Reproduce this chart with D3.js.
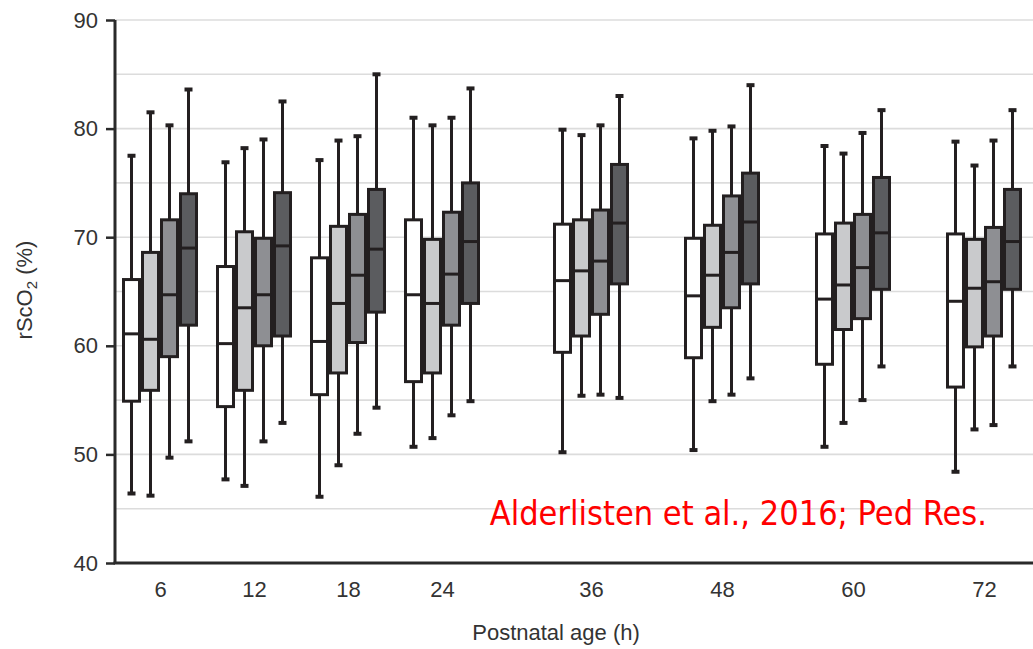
<!DOCTYPE html>
<html>
<head>
<meta charset="utf-8">
<script src="https://cdn.jsdelivr.net/npm/d3@7"></script>
<style>
  html, body { margin: 0; padding: 0; background: #fff; }
  svg { display: block; }
</style>
</head>
<body>
<svg id="chart" width="1033" height="649"></svg>
<script>
// Postnatal age groups (hours) and the four series drawn per group
const ages = [6, 12, 18, 24, 36, 48, 60, 72];
const seriesNames = ["s1", "s2", "s3", "s4"];
const seriesFill = ["#ffffff", "#c9cacc", "#8e8f93", "#5b5c5f"];
const yTicks = [40, 50, 60, 70, 80, 90];
const yGrid = [45, 50, 55, 60, 65, 70, 75, 80, 85, 90];

// Box statistics per series, one entry per age: [whisker low, Q1, median, Q3, whisker high]
const s1 = [
  [46.4, 54.9, 61.1, 66.1, 77.5],
  [47.7, 54.4, 60.2, 67.3, 76.9],
  [46.1, 55.5, 60.4, 68.1, 77.1],
  [50.7, 56.7, 64.7, 71.6, 81.0],
  [50.2, 59.4, 66.0, 71.2, 79.9],
  [50.4, 58.9, 64.6, 69.9, 79.1],
  [50.7, 58.3, 64.3, 70.3, 78.4],
  [48.4, 56.2, 64.1, 70.3, 78.8]
];
const s2 = [
  [46.2, 55.9, 60.6, 68.6, 81.5],
  [47.1, 55.9, 63.5, 70.5, 78.2],
  [49.0, 57.5, 63.9, 71.0, 78.9],
  [51.5, 57.5, 63.9, 69.8, 80.3],
  [55.4, 60.9, 66.9, 71.6, 79.4],
  [54.9, 61.7, 66.5, 71.1, 79.8],
  [52.9, 61.5, 65.6, 71.3, 77.7],
  [52.3, 59.9, 65.3, 69.8, 76.6]
];
const s3 = [
  [49.7, 59.0, 64.7, 71.6, 80.3],
  [51.2, 60.0, 64.7, 69.9, 79.0],
  [51.9, 60.3, 66.5, 72.1, 79.3],
  [53.6, 61.9, 66.6, 72.3, 81.0],
  [55.5, 62.9, 67.8, 72.5, 80.3],
  [55.5, 63.5, 68.6, 73.8, 80.2],
  [55.0, 62.5, 67.2, 72.1, 79.6],
  [52.7, 60.9, 65.9, 70.9, 78.9]
];
const s4 = [
  [51.2, 61.9, 69.0, 74.0, 83.6],
  [52.9, 60.9, 69.2, 74.1, 82.5],
  [54.3, 63.1, 68.9, 74.4, 85.0],
  [54.9, 63.9, 69.6, 75.0, 83.7],
  [55.2, 65.7, 71.3, 76.7, 83.0],
  [57.0, 65.7, 71.4, 75.9, 84.0],
  [58.1, 65.2, 70.4, 75.5, 81.7],
  [58.1, 65.2, 69.6, 74.4, 81.7]
];
const seriesData = [s1, s2, s3, s4];

const svg = d3.select("#chart");
const margin = { left: 115, top: 20, bottom: 86 };
const W = 1033, H = 649;
const plotBottom = H - margin.bottom;
const labelFont = "'Liberation Sans', Arial, Helvetica, sans-serif";

const y = d3.scaleLinear().domain([40, 90]).range([plotBottom, margin.top]);
// Age axis is laid out in two stretches: 6–24 h more widely spaced than 36–72 h
const x = d3.scaleLinear().domain([6, 24, 36, 72]).range([160, 442, 591, 984]);
const inner = d3.scaleBand().domain(seriesNames).range([-38, 38]).padding(0);

// Horizontal grid lines
svg.append("g").selectAll("line").data(yGrid).join("line")
  .attr("x1", margin.left).attr("x2", W)
  .attr("y1", d => y(d)).attr("y2", d => y(d))
  .attr("stroke", "#dcdcdc").attr("stroke-width", 1.6);

// Boxes
const ink = "#231f20";
const capW = 8;
seriesData.forEach((ser, si) => {
  const g = svg.append("g");
  ser.forEach((st, ai) => {
    const [lo, q1, med, q3, hi] = st;
    const x0 = x(ages[ai]) + inner(seriesNames[si]);
    const bw = inner.bandwidth();
    const cx = x0 + bw / 2;
    // whiskers
    g.append("line").attr("x1", cx).attr("x2", cx).attr("y1", y(hi)).attr("y2", y(q3))
      .attr("stroke", ink).attr("stroke-width", 3);
    g.append("line").attr("x1", cx).attr("x2", cx).attr("y1", y(q1)).attr("y2", y(lo))
      .attr("stroke", ink).attr("stroke-width", 3);
    // caps
    [hi, lo].forEach(v => {
      g.append("line").attr("x1", cx - capW / 2).attr("x2", cx + capW / 2)
        .attr("y1", y(v)).attr("y2", y(v))
        .attr("stroke", ink).attr("stroke-width", 4);
    });
    // box
    g.append("rect")
      .attr("x", x0 + 1.5).attr("width", bw - 3)
      .attr("y", y(q3)).attr("height", y(q1) - y(q3))
      .attr("fill", seriesFill[si]).attr("stroke", ink).attr("stroke-width", 3);
    // median
    g.append("line").attr("x1", x0 + 1.5).attr("x2", x0 + bw - 1.5)
      .attr("y1", y(med)).attr("y2", y(med))
      .attr("stroke", ink).attr("stroke-width", 3);
  });
});

// Y axis
const yAxis = d3.axisLeft(y).tickValues(yTicks).tickSize(9).tickPadding(8);
const ya = svg.append("g").attr("transform", `translate(${margin.left},0)`).call(yAxis);
ya.select(".domain").attr("stroke", "#2a2a2a").attr("stroke-width", 3)
  .attr("d", `M0,${margin.top}V${plotBottom}`);
ya.selectAll(".tick line").attr("stroke", "#2a2a2a").attr("stroke-width", 2.5);
ya.selectAll(".tick text").attr("fill", "#333").style("font-family", labelFont)
  .style("font-size", "22px");

// X axis (baseline with labels, no ticks)
const xAxis = d3.axisBottom(x).tickValues(ages).tickFormat(d3.format("d")).tickSize(0).tickPadding(18);
const xa = svg.append("g").attr("transform", `translate(0,${plotBottom})`).call(xAxis);
xa.select(".domain").attr("stroke", "#2a2a2a").attr("stroke-width", 3)
  .attr("d", `M${margin.left - 1.5},0H${W}`);
xa.selectAll(".tick text").attr("fill", "#333").style("font-family", labelFont)
  .style("font-size", "22px");

// Axis titles
svg.append("text")
  .attr("x", 556).attr("y", 640)
  .attr("text-anchor", "middle")
  .attr("fill", "#333")
  .style("font-family", labelFont)
  .style("font-size", "22px")
  .text("Postnatal age (h)");

const yt = svg.append("text")
  .attr("transform", "translate(32,290) rotate(-90)")
  .attr("text-anchor", "middle")
  .attr("fill", "#333")
  .style("font-family", labelFont)
  .style("font-size", "22px");
yt.append("tspan").text("rScO");
yt.append("tspan").attr("dy", 5).style("font-size", "15px").text("2");
yt.append("tspan").attr("dy", -5).text(" (%)");

// Source note
svg.append("text")
  .attr("x", 987).attr("y", 525)
  .attr("text-anchor", "end")
  .attr("fill", "#ff0000")
  .style("font-family", "'DejaVu Sans Condensed', 'DejaVu Sans', Verdana, sans-serif")
  .style("font-stretch", "condensed")
  .style("font-size", "34px")
  .text("Alderlisten et al., 2016; Ped Res.");
</script>
</body>
</html>
